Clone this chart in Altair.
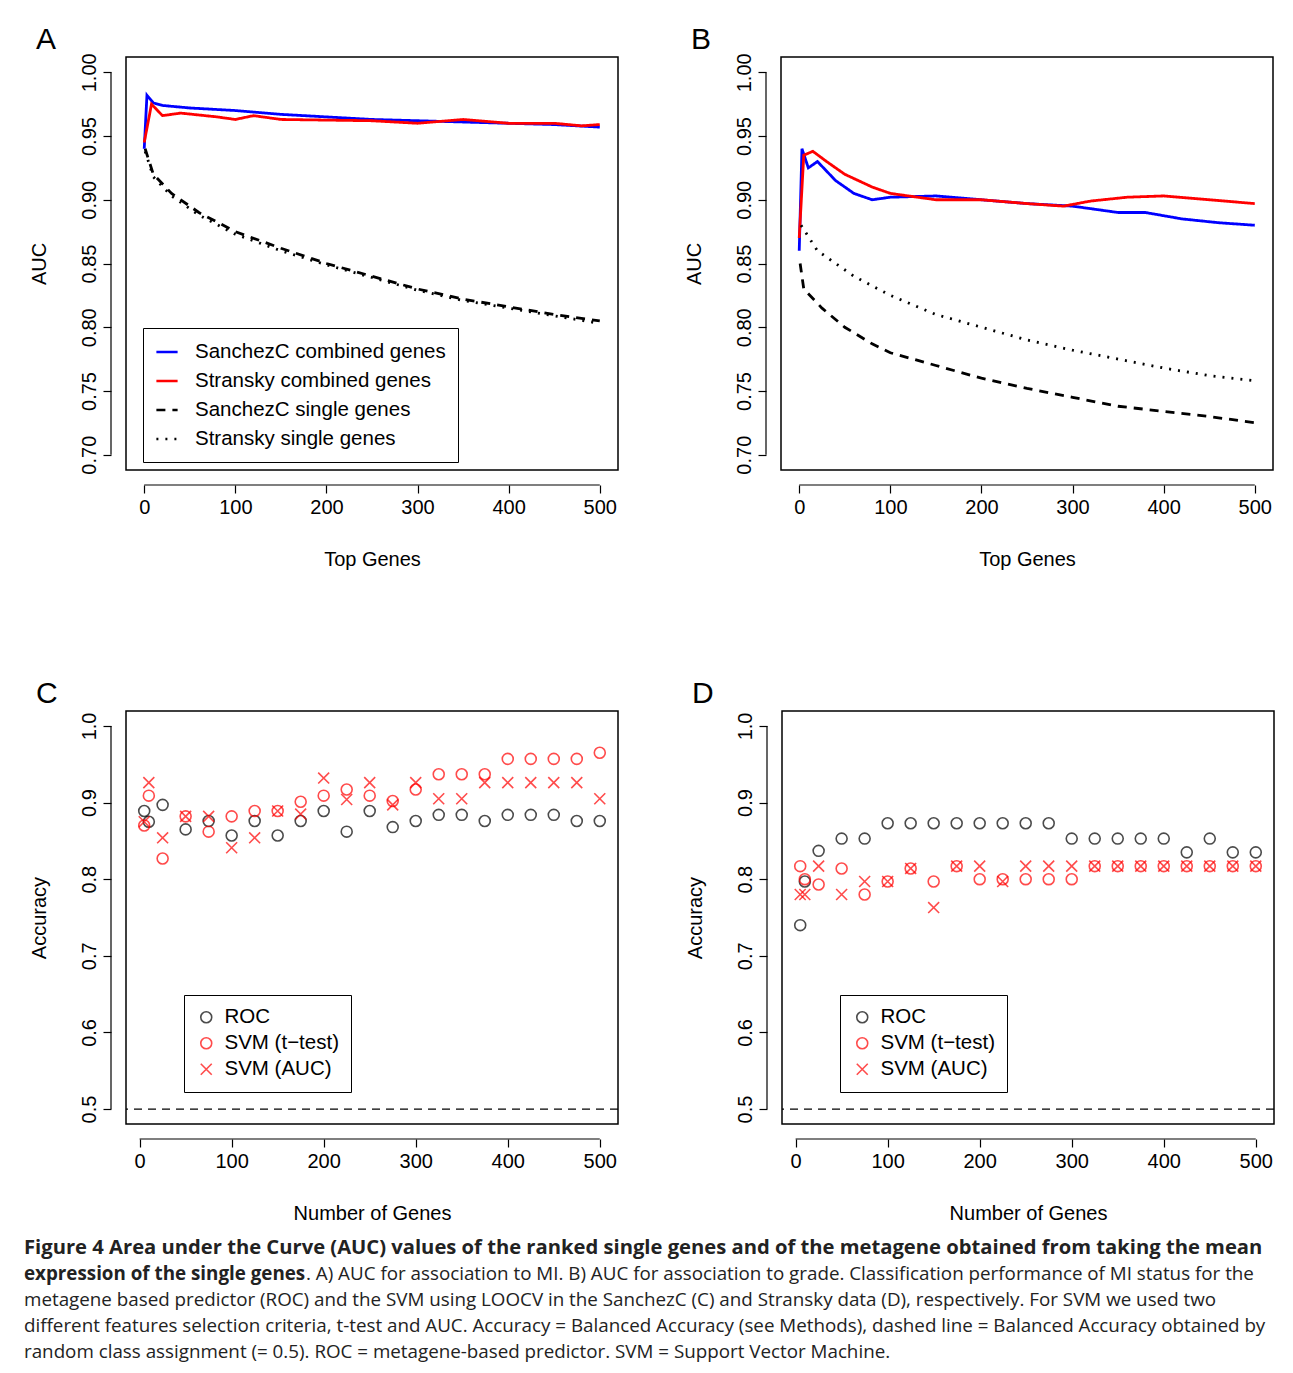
import pandas as pd
import altair as alt

FONT = "Liberation Sans"

# ---- panel A / B line data (x = top genes, y = AUC) ----
a_blue_x = [0, 3, 10, 20, 50, 100, 150, 200, 250, 300, 350, 400, 450, 500]
a_blue_y = [0.940, 0.982, 0.976, 0.974, 0.972, 0.970, 0.967, 0.965, 0.963, 0.962, 0.961, 0.960, 0.959, 0.957]
a_red_x = [0, 8, 20, 40, 80, 100, 120, 150, 250, 300, 350, 400, 450, 480, 500]
a_red_y = [0.945, 0.975, 0.966, 0.968, 0.965, 0.963, 0.966, 0.963, 0.962, 0.960, 0.963, 0.960, 0.960, 0.958, 0.959]
a_dash_x = [1, 10, 30, 60, 100, 150, 200, 250, 300, 350, 400, 450, 500]
a_dash_y = [0.940, 0.920, 0.905, 0.890, 0.875, 0.862, 0.850, 0.840, 0.830, 0.822, 0.816, 0.810, 0.805]
a_dot_x = [1, 10, 30, 60, 100, 150, 200, 250, 300, 350, 400, 450, 500]
a_dot_y = [0.938, 0.918, 0.903, 0.888, 0.873, 0.860, 0.849, 0.839, 0.829, 0.821, 0.815, 0.809, 0.803]

b_blue_x = [0, 3, 10, 20, 40, 60, 80, 100, 150, 200, 250, 300, 350, 380, 420, 460, 500]
b_blue_y = [0.860, 0.940, 0.925, 0.930, 0.915, 0.905, 0.900, 0.902, 0.903, 0.900, 0.897, 0.895, 0.890, 0.890, 0.885, 0.882, 0.880]
b_red_x = [0, 5, 15, 30, 50, 80, 100, 150, 200, 250, 290, 320, 360, 400, 450, 500]
b_red_y = [0.870, 0.935, 0.938, 0.930, 0.920, 0.910, 0.905, 0.900, 0.900, 0.897, 0.895, 0.899, 0.902, 0.903, 0.900, 0.897]
b_dash_x = [1, 5, 25, 50, 80, 100, 150, 200, 250, 300, 350, 400, 450, 500]
b_dash_y = [0.850, 0.830, 0.815, 0.800, 0.787, 0.780, 0.770, 0.760, 0.752, 0.745, 0.738, 0.734, 0.730, 0.725]
b_dot_x = [2, 20, 60, 100, 150, 200, 250, 300, 350, 400, 450, 500]
b_dot_y = [0.880, 0.860, 0.840, 0.825, 0.810, 0.800, 0.790, 0.782, 0.775, 0.768, 0.762, 0.758]

# ---- panel C / D accuracy data ----
genes = [5, 10, 25, 50, 75, 100, 125, 150, 175, 200, 225, 250, 275, 300, 325, 350, 375, 400, 425, 450, 475, 500]
c_roc = [0.889, 0.875, 0.897, 0.865, 0.876, 0.857, 0.876, 0.857, 0.876, 0.889, 0.862, 0.889, 0.868, 0.876,
         0.884, 0.884, 0.876, 0.884, 0.884, 0.884, 0.876, 0.876]
c_ttest = [0.870, 0.909, 0.827, 0.882, 0.862, 0.882, 0.889, 0.889, 0.901, 0.909, 0.917, 0.909, 0.902, 0.917,
           0.937, 0.937, 0.937, 0.957, 0.957, 0.957, 0.957, 0.965]
c_auc = [0.875, 0.926, 0.854, 0.882, 0.882, 0.841, 0.854, 0.889, 0.885, 0.932, 0.904, 0.926, 0.897, 0.926,
         0.905, 0.905, 0.926, 0.926, 0.926, 0.926, 0.926, 0.905]
d_roc = [0.740, 0.797, 0.837, 0.853, 0.853, 0.873, 0.873, 0.873, 0.873, 0.873, 0.873, 0.873, 0.873, 0.853,
         0.853, 0.853, 0.853, 0.853, 0.835, 0.853, 0.835, 0.835]
d_ttest = [0.817, 0.800, 0.793, 0.814, 0.780, 0.797, 0.814, 0.797, 0.817, 0.800, 0.800, 0.800, 0.800, 0.800,
           0.817, 0.817, 0.817, 0.817, 0.817, 0.817, 0.817, 0.817]
d_auc = [0.780, 0.780, 0.817, 0.780, 0.797, 0.797, 0.814, 0.763, 0.817, 0.817, 0.797, 0.817, 0.817, 0.817,
         0.817, 0.817, 0.817, 0.817, 0.817, 0.817, 0.817, 0.817]

LINE_SERIES = ["SanchezC combined genes", "Stransky combined genes", "SanchezC single genes", "Stransky single genes"]
PT_SERIES = ["ROC", "SVM (t\u2212test)", "SVM (AUC)"]
XSHAPE = "M-1,-1L1,1M-1,1L1,-1"

W, H = 492, 413
OFF = 15


def frame(xs, ys, names):
    rows = []
    for (x, y), n in zip(zip(xs, ys), names):
        rows += [{"x": a, "y": b, "s": n} for a, b in zip(x, y)]
    return pd.DataFrame(rows)


def axes_rules(ylo, yhi, ydom, xdom):
    xs = alt.Chart(pd.DataFrame({"x": [0], "x2": [500]})).mark_rule(color="black", strokeWidth=1.2).encode(
        x=alt.X("x:Q", scale=alt.Scale(domain=xdom)), x2="x2:Q", y=alt.value(H + OFF))
    ysr = alt.Chart(pd.DataFrame({"y": [ylo], "y2": [yhi]})).mark_rule(color="black", strokeWidth=1.2).encode(
        y=alt.Y("y:Q", scale=alt.Scale(domain=ydom)), y2="y2:Q", x=alt.value(-OFF))
    return xs + ysr


def letter(t):
    return alt.Chart(pd.DataFrame({"t": [t]})).mark_text(
        fontSize=30, font=FONT, align="left", baseline="middle").encode(
        text="t:N", x=alt.value(-90), y=alt.value(-17))


def line_panel(df, letter_t, legend):
    xdom = [-20, 520]
    ydom = [0.688, 1.012]
    leg = alt.Legend(orient="none", legendX=17, legendY=271, title=None, strokeColor="black",
                     padding=12, labelFontSize=20.5, labelFont=FONT, symbolType="stroke",
                     symbolStrokeWidth=2.5, symbolSize=450, labelLimit=400, rowPadding=6,
                     labelOffset=16, cornerRadius=0) if legend else None
    lines = alt.Chart(df).mark_line(strokeWidth=2.8, clip=True).encode(
        x=alt.X("x:Q", scale=alt.Scale(domain=xdom, nice=False),
                axis=alt.Axis(title="Top Genes", values=[0, 100, 200, 300, 400, 500], offset=OFF,
                              domain=False, titlePadding=32)),
        y=alt.Y("y:Q", scale=alt.Scale(domain=ydom, nice=False, zero=False),
                axis=alt.Axis(title="AUC", values=[0.70, 0.75, 0.80, 0.85, 0.90, 0.95, 1.00], format=".2f",
                              offset=OFF, domain=False, labelAngle=-90, labelAlign="center",
                              labelBaseline="bottom", titlePadding=30)),
        color=alt.Color("s:N", scale=alt.Scale(domain=LINE_SERIES, range=["blue", "red", "black", "black"]),
                        legend=leg),
        strokeDash=alt.StrokeDash("s:N", scale=alt.Scale(domain=LINE_SERIES,
                                  range=[[1, 0], [1, 0], [9, 7], [2, 7]]), legend=leg),
        order="x:Q",
    )
    return (lines + axes_rules(0.70, 1.00, ydom, xdom) + letter(letter_t)).properties(width=W, height=H)


def point_panel(x, roc, tt, auc, letter_t):
    xdom = [-14.8, 519.8]
    ydom = [0.4805, 1.0195]
    df = frame([x, x, x], [roc, tt, auc], PT_SERIES)
    leg = alt.Legend(orient="none", legendX=58, legendY=284, title=None, strokeColor="black",
                     padding=12, labelFontSize=20.5, labelFont=FONT, symbolSize=120,
                     symbolStrokeWidth=1.6, rowPadding=5, labelOffset=8)
    pts = alt.Chart(df).mark_point(filled=False, size=120, strokeWidth=1.6).encode(
        x=alt.X("x:Q", scale=alt.Scale(domain=xdom, nice=False),
                axis=alt.Axis(title="Number of Genes", values=[0, 100, 200, 300, 400, 500], offset=OFF,
                              domain=False, titlePadding=32)),
        y=alt.Y("y:Q", scale=alt.Scale(domain=ydom, nice=False, zero=False),
                axis=alt.Axis(title="Accuracy", values=[0.5, 0.6, 0.7, 0.8, 0.9, 1.0], format=".1f",
                              offset=OFF, domain=False, labelAngle=-90, labelAlign="center",
                              labelBaseline="bottom", titlePadding=30)),
        color=alt.Color("s:N", scale=alt.Scale(domain=PT_SERIES, range=["black", "red", "red"]), legend=leg),
        shape=alt.Shape("s:N", scale=alt.Scale(domain=PT_SERIES, range=["circle", "circle", XSHAPE]),
                        legend=leg),
    )
    base = alt.Chart(pd.DataFrame({"y": [0.5]})).mark_rule(strokeDash=[8, 6], color="black",
                                                          strokeWidth=1.3).encode(y="y:Q")
    return (base + pts + axes_rules(0.5, 1.0, ydom, xdom) + letter(letter_t)).properties(width=W, height=H)


A = line_panel(frame([a_blue_x, a_red_x, a_dash_x, a_dot_x], [a_blue_y, a_red_y, a_dash_y, a_dot_y], LINE_SERIES),
               "A", True)
B = line_panel(frame([b_blue_x, b_red_x, b_dash_x, b_dot_x], [b_blue_y, b_red_y, b_dash_y, b_dot_y], LINE_SERIES),
               "B", False)
C = point_panel(genes, c_roc, c_ttest, c_auc, "C")
D = point_panel(genes, d_roc, d_ttest, d_auc, "D")

cap_bold1 = "Figure 4 Area under the Curve (AUC) values of the ranked single genes and of the metagene obtained from taking the mean"
cap_bold2 = "expression of the single genes"
cap_rest2 = ". A) AUC for association to MI. B) AUC for association to grade. Classification performance of MI status for the"
cap_lines = [
    "metagene based predictor (ROC) and the SVM using LOOCV in the SanchezC (C) and Stransky data (D), respectively. For SVM we used two",
    "different features selection criteria, t-test and AUC. Accuracy = Balanced Accuracy (see Methods), dashed line = Balanced Accuracy obtained by",
    "random class assignment (= 0.5). ROC = metagene-based predictor. SVM = Support Vector Machine.",
]

CX = -102


def cap_text(t, x, y, bold, size=18.8):
    return alt.Chart(pd.DataFrame({"t": [t]})).mark_text(
        font="Open Sans", fontSize=size, fontWeight="bold" if bold else "normal", align="left",
        baseline="middle", color="#222").encode(text="t:N", x=alt.value(CX + x), y=alt.value(y))


cap = (cap_text(cap_bold1, 0, 10, True, 20.2) + cap_text(cap_bold2, 0, 36, True)
       + cap_text(cap_rest2, 282, 36, False))
for i, t in enumerate(cap_lines):
    cap = cap + cap_text(t, 0, 62 + 26 * i, False)
cap = cap.properties(width=1140, height=125, view=alt.ViewConfig(stroke=None))

chart = (
    alt.vconcat(
        alt.vconcat(
            alt.hconcat(A, B, spacing=64).resolve_scale(color="independent", strokeDash="independent"),
            alt.hconcat(C, D, spacing=64).resolve_scale(color="independent", shape="independent"),
            spacing=108,
        ),
        cap,
        spacing=14,
    )
    .properties(background="white", padding={"left": 16, "top": 16, "right": 0, "bottom": 0})
    .configure_view(stroke="black", strokeWidth=1.5)
    .configure_axis(labelFont=FONT, titleFont=FONT, labelFontSize=20, titleFontSize=20,
                    titleFontWeight="normal", labelColor="black", titleColor="black", grid=False,
                    tickColor="black", tickSize=8, tickWidth=1.2, labelPadding=4)
)

chart.save("out.html", embed_options={"renderer": "svg", "actions": False})
